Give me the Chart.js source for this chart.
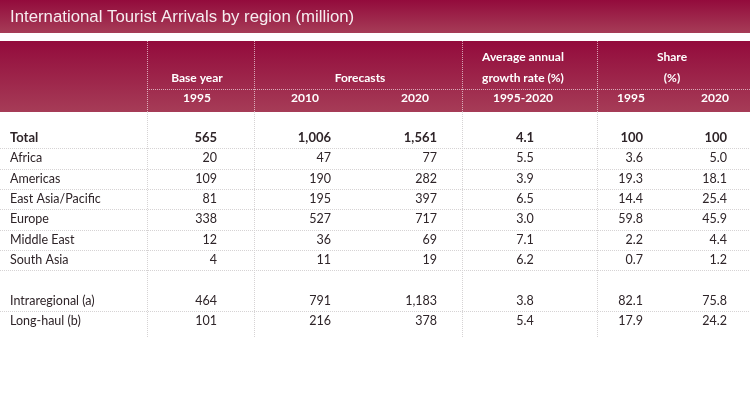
<!DOCTYPE html>
<html lang="en">
  <head>
    <meta charset="UTF-8" />
    <title>International Tourist Arrivals by region</title>
    <style>
      html, body { margin: 0; padding: 0; background: #fff; }
      #wrap { width: 750px; height: 400px; position: relative; }
    </style>
  </head>
  <body>
    <div id="wrap">
      <canvas id="chart"></canvas>
    </div>
    <script src="https://cdn.jsdelivr.net/npm/chart.js"></script>
    <script>
      const title = "International Tourist Arrivals by region (million)";
      const regions = [
        "Total", "Africa", "Americas", "East Asia/Pacific", "Europe",
        "Middle East", "South Asia", "", "Intraregional (a)", "Long-haul (b)",
      ];
      const base1995 = [565, 20, 109, 81, 338, 12, 4, null, 464, 101];
      const forecast2010 = [1006, 47, 190, 195, 527, 36, 11, null, 791, 216];
      const forecast2020 = [1561, 77, 282, 397, 717, 69, 19, null, 1183, 378];
      const growth = [4.1, 5.5, 3.9, 6.5, 3.0, 7.1, 6.2, null, 3.8, 5.4];
      const share1995 = [100, 3.6, 19.3, 14.4, 59.8, 2.2, 0.7, null, 82.1, 17.9];
      const share2020 = [100, 5.0, 18.1, 25.4, 45.9, 4.4, 1.2, null, 75.8, 24.2];
      const yearLabels = ["1995", "2010", "2020", "1995-2020", "1995", "2020"];
      const groupLabels = [
        ["Base year"],
        ["Forecasts"],
        ["Average annual", "growth rate (%)"],
        ["Share", "(%)"],
      ];

      // layout (x in table units, the x scale runs 0..750)
      const COLS = [
        { anchor: 217, align: "right", head: 197, decimals: 0 },
        { anchor: 331, align: "right", head: 305, decimals: 0 },
        { anchor: 437, align: "right", head: 415, decimals: 0 },
        { anchor: 525, align: "center", head: 523, decimals: 1 },
        { anchor: 643, align: "right", head: 631, decimals: 1 },
        { anchor: 727, align: "right", head: 715, decimals: 1 },
      ];
      const GROUP_X = [197, 360, 523, 672];
      const DIVIDERS = [147, 254, 462, 597];
      const SEPARATOR_AFTER = [0, 1, 2, 3, 4, 5, 6, 8];

      const BODY_FONT = "Lato";
      const TEXT = "#2e2428";

      function fmt(v, decimals) {
        if (decimals === 0) return v.toLocaleString("en-US");
        if (Number.isInteger(v) && v >= 100) return String(v);
        return v.toFixed(decimals);
      }

      const columns = [base1995, forecast2010, forecast2020, growth, share1995, share2020];
      const datasets = columns.map((values, c) => ({
        label: yearLabels[c],
        data: values.map((v, i) => ({ x: COLS[c].anchor, y: i, v: v })),
        pointRadius: 0,
        pointHoverRadius: 0,
      }));

      function band(ctx, top, bottom) {
        const g = ctx.createLinearGradient(0, top, 0, bottom);
        g.addColorStop(0, "#930b3c");
        g.addColorStop(1, "#a63c57");
        ctx.fillStyle = g;
        ctx.fillRect(0, top, 750, bottom - top);
      }

      const tablePlugin = {
        id: "table",
        beforeDraw(chart) {
          const { ctx } = chart;
          const x = chart.scales.x;
          ctx.save();
          ctx.fillStyle = "#fff";
          ctx.fillRect(0, 0, chart.width, chart.height);
          band(ctx, 0, 33);
          band(ctx, 41, 112);

          // title
          ctx.fillStyle = "#f6ecef";
          ctx.font = "16.8px 'Liberation Sans', Arial, sans-serif";
          ctx.textBaseline = "middle";
          ctx.textAlign = "left";
          ctx.fillText(title, 10, 17);

          // dotted lines
          ctx.lineWidth = 1;
          ctx.setLineDash([1, 1]);
          ctx.strokeStyle = "rgba(255,255,255,0.6)";
          DIVIDERS.forEach((d) => {
            const px = Math.round(x.getPixelForValue(d)) + 0.5;
            ctx.beginPath();
            ctx.moveTo(px, 41);
            ctx.lineTo(px, 112);
            ctx.stroke();
          });
          ctx.beginPath();
          ctx.moveTo(x.getPixelForValue(DIVIDERS[0]), 89.5);
          ctx.lineTo(750, 89.5);
          ctx.stroke();

          ctx.strokeStyle = "#d6d3d4";
          DIVIDERS.forEach((d) => {
            const px = Math.round(x.getPixelForValue(d)) + 0.5;
            ctx.beginPath();
            ctx.moveTo(px, 112);
            ctx.lineTo(px, 337);
            ctx.stroke();
          });
          const y = chart.scales.y;
          SEPARATOR_AFTER.forEach((i) => {
            const py = Math.round((y.getPixelForValue(i) + y.getPixelForValue(i + 1)) / 2) + 0.5;
            ctx.beginPath();
            ctx.moveTo(0, py);
            ctx.lineTo(750, py);
            ctx.stroke();
          });
          ctx.setLineDash([]);

          // header text
          ctx.fillStyle = "#fff";
          ctx.font = `bold 12px ${BODY_FONT}`;
          ctx.textAlign = "center";
          groupLabels.forEach((lines, g) => {
            lines.forEach((t, k) => {
              const py = 78 - (lines.length - 1 - k) * 21;
              ctx.fillText(t, x.getPixelForValue(GROUP_X[g]), py);
            });
          });
          yearLabels.forEach((t, c) => {
            ctx.fillText(t, x.getPixelForValue(COLS[c].head), 98);
          });
          ctx.restore();
        },
        afterDatasetsDraw(chart) {
          const { ctx } = chart;
          const y = chart.scales.y;
          ctx.save();
          ctx.fillStyle = TEXT;
          ctx.textBaseline = "middle";
          regions.forEach((r, i) => {
            ctx.font = i === 0 ? `bold 13px ${BODY_FONT}` : `12.5px ${BODY_FONT}`;
            ctx.textAlign = "left";
            ctx.fillText(r, 10, y.getPixelForValue(i));
          });
          chart.data.datasets.forEach((ds, c) => {
            const meta = chart.getDatasetMeta(c);
            ctx.textAlign = COLS[c].align;
            meta.data.forEach((pt, i) => {
              const v = ds.data[i].v;
              if (v === null) return;
              ctx.font = i === 0 ? `bold 13px ${BODY_FONT}` : `12.5px ${BODY_FONT}`;
              ctx.fillText(fmt(v, COLS[c].decimals), pt.x, pt.y);
            });
          });
          ctx.restore();
        },
      };

      new Chart(document.getElementById("chart"), {
        type: "scatter",
        data: { datasets: datasets },
        options: {
          responsive: true,
          maintainAspectRatio: false,
          animation: false,
          events: [],
          layout: { padding: { left: 0, right: 0, top: 128, bottom: 69 } },
          plugins: { legend: { display: false }, tooltip: { enabled: false } },
          scales: {
            x: { type: "linear", min: 0, max: 750, display: false },
            y: {
              type: "category",
              labels: regions.map((r, i) => i),
              offset: true,
              display: false,
            },
          },
        },
        plugins: [tablePlugin],
      });
    </script>
  </body>
</html>
